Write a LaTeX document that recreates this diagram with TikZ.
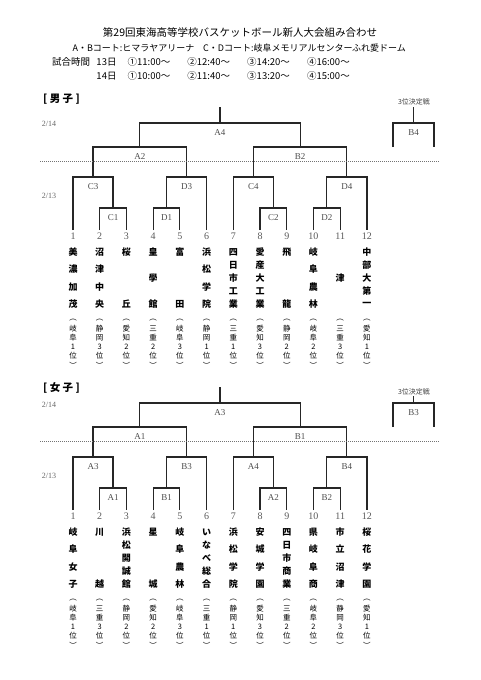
\documentclass[tikz,border=0pt]{standalone}
\usepackage{fontspec}
\setmainfont{Liberation Serif}
\newfontfamily\jp{Noto Sans CJK JP}
\usetikzlibrary{calc}
\tikzset{bline/.style={line width=1.2pt,draw=black!85},
  glabel/.style={font=\fontsize{9}{9}\selectfont,text=black!70,inner sep=0pt},
  tnum/.style={font=\fontsize{10}{10}\selectfont,text=black!65,inner sep=0pt},
  namech/.style={font=\jp\bfseries\fontsize{9}{9}\selectfont,inner sep=0pt},
  prefch/.style={font=\jp\fontsize{7.5}{7.5}\selectfont,inner sep=0pt},
  daylabel/.style={font=\fontsize{8}{8}\selectfont,text=black!60,inner sep=0pt},
  head/.style={font=\jp\fontsize{9.5}{9.5}\selectfont,inner sep=0pt},
  sect/.style={font=\jp\bfseries\fontsize{10.5}{10.5}\selectfont,inner sep=0pt},
  thirdlabel/.style={font=\jp\fontsize{7}{7}\selectfont,text=black!75,inner sep=0pt},
  dayline/.style={black!55,line width=1pt,dash pattern=on 1pt off 1pt}}
% one match: name, left, right, level, label
\newcommand\game[5]{%
  \coordinate (#1m) at ($(#2)!.5!(#3)$);
  \coordinate (#1) at (#1m |- 0,#4);
  \draw[bline] (#2) |- (#1) -| (#3);
  \node[glabel,yshift=-10pt] (#1l) at (#1) {#5};}
% one team column: prefix, number, chars, prefecture
\newcommand\teamcol[4]{%
  \pgfmathsetmacro\xx{73+(#2-1)*26.72}
  \node[tnum] (#1n#2) at (\xx,236) {#2};
  \edef\nlist{#3}\edef\plist{︵,#4,︶}
  \foreach \c [count=\k] in \nlist {\xdef\nch{\k}}
  \foreach \c [count=\k] in \nlist {
    \pgfmathsetmacro\yy{\nch==1 ? 278 : 252+(\k-1)*52/max(\nch-1,1)}
    \node[namech] (#1c#2-\k) at (\xx,\yy) {\c};}
  \foreach \c [count=\k] in \plist
    \node[prefch] (#1p#2-\k) at (\xx,{320+(\k-1)*9}) {\c};}

\begin{document}
\begin{tikzpicture}[x=1pt,y=-1pt]
\useasboundingbox (0,0) rectangle (481,680);
% heading
\node[font=\jp\fontsize{10.5}{10.5}\selectfont] (title) at (240,33) {第29回東海高等学校バスケットボール新人大会組み合わせ};
\node[head,font=\jp\fontsize{9}{9}\selectfont] (courtab) at (133.5,48) {A・Bコート:ヒマラヤアリーナ};
\node[head,font=\jp\fontsize{9}{9}\selectfont] (courtcd) at (304.5,48) {C・Dコート:岐阜メモリアルセンターふれ愛ドーム};
\node[head] (jikan) at (71,62) {試合時間};
\node[head] (day13) at (106.5,62) {13日};
\node[head] (day14) at (106.5,76) {14日};
\foreach \t [count=\i] in {①11:00～,②12:40～,③14:20～,④16:00～}
  \node[head] (ta\i) at ({149+(\i-1)*59.8},62) {\t};
\foreach \t [count=\i] in {①10:00～,②11:40～,③13:20～,④15:00～}
  \node[head] (tb\i) at ({149+(\i-1)*59.8},76) {\t};
\node[sect] (boys) at (61.5,99) {[\ 男\ 子\ ]};
\node[sect] (girls) at (61.5,388) {[\ 女\ 子\ ]};

% boys
\begin{scope}
\foreach \i in {1,...,12} \coordinate (t\i) at ({73+(\i-1)*26.72},230);
\game{c1}{t2}{t3}{208}{C1}
\game{d1}{t4}{t5}{208}{D1}
\game{c2}{t8}{t9}{208}{C2}
\game{d2}{t10}{t11}{208}{D2}
\game{c3}{t1}{c1}{177}{C3}
\game{d3}{d1}{t6}{177}{D3}
\game{c4}{t7}{c2}{177}{C4}
\game{d4}{d2}{t12}{177}{D4}
\game{sa}{c3}{d3}{147}{A2}
\game{sb}{c4}{d4}{147}{B2}
\game{fin}{sa}{sb}{123}{A4}
\coordinate (top) at (fin |- 0,107);
\draw[bline] (fin) -- (top);
\coordinate (q1) at (393,147); \coordinate (q2) at (434,147);
\game{th}{q1}{q2}{123}{B4}
\coordinate (thtop) at (th |- 0,107);
\draw[bline] (th) -- (thtop);
\node[thirdlabel] (thl) at (414,102) {3位決定戦};
\node[daylabel] (d14) at (49,124) {2/14};
\node[daylabel] (d13) at (49,196) {2/13};
\draw[dayline] (40,161) -- (440,161);
\foreach \nm/\pf [count=\i] in {{美,濃,加,茂}/{岐,阜,1,位},{沼,津,中,央}/{静,岡,3,位},
  {桜,丘}/{愛,知,2,位},{皇,學,館}/{三,重,2,位},{富,田}/{岐,阜,3,位},
  {浜,松,学,院}/{静,岡,1,位},{四,日,市,工,業}/{三,重,1,位},{愛,産,大,工,業}/{愛,知,3,位},
  {飛,龍}/{静,岡,2,位},{岐,阜,農,林}/{岐,阜,2,位},{津}/{三,重,3,位},
  {中,部,大,第,一}/{愛,知,1,位}}
  {\teamcol{b}{\i}{\nm}{\pf}}
\end{scope}

% girls
\begin{scope}[yshift=-280pt]
\foreach \i in {1,...,12} \coordinate (t\i) at ({73+(\i-1)*26.72},230);
\game{a1}{t2}{t3}{208}{A1}
\game{b1}{t4}{t5}{208}{B1}
\game{a2}{t8}{t9}{208}{A2}
\game{b2}{t10}{t11}{208}{B2}
\game{a3}{t1}{a1}{177}{A3}
\game{b3}{b1}{t6}{177}{B3}
\game{a4}{t7}{a2}{177}{A4}
\game{b4}{b2}{t12}{177}{B4}
\game{sa}{a3}{b3}{147}{A1}
\game{sb}{a4}{b4}{147}{B1}
\game{fin}{sa}{sb}{123}{A3}
\coordinate (top) at (fin |- 0,107);
\draw[bline] (fin) -- (top);
\coordinate (q1) at (393,147); \coordinate (q2) at (434,147);
\game{th}{q1}{q2}{123}{B3}
\coordinate (thtop) at (th |- 0,116);
\draw[bline] (th) -- (thtop);
\node[thirdlabel] (thl) at (414,112) {3位決定戦};
\node[daylabel] (d14) at (49,125) {2/14};
\node[daylabel] (d13) at (49,196) {2/13};
\draw[dayline] (40,161) -- (440,161);
\foreach \nm/\pf [count=\i] in {{岐,阜,女,子}/{岐,阜,1,位},{川,越}/{三,重,3,位},
  {浜,松,開,誠,館}/{静,岡,2,位},{星,城}/{愛,知,2,位},{岐,阜,農,林}/{岐,阜,3,位},
  {い,な,べ,総,合}/{三,重,1,位},{浜,松,学,院}/{静,岡,1,位},{安,城,学,園}/{愛,知,3,位},
  {四,日,市,商,業}/{三,重,2,位},{県,岐,阜,商}/{岐,阜,2,位},{市,立,沼,津}/{静,岡,3,位},
  {桜,花,学,園}/{愛,知,1,位}}
  {\teamcol{g}{\i}{\nm}{\pf}}
\end{scope}
\end{tikzpicture}
\end{document}
